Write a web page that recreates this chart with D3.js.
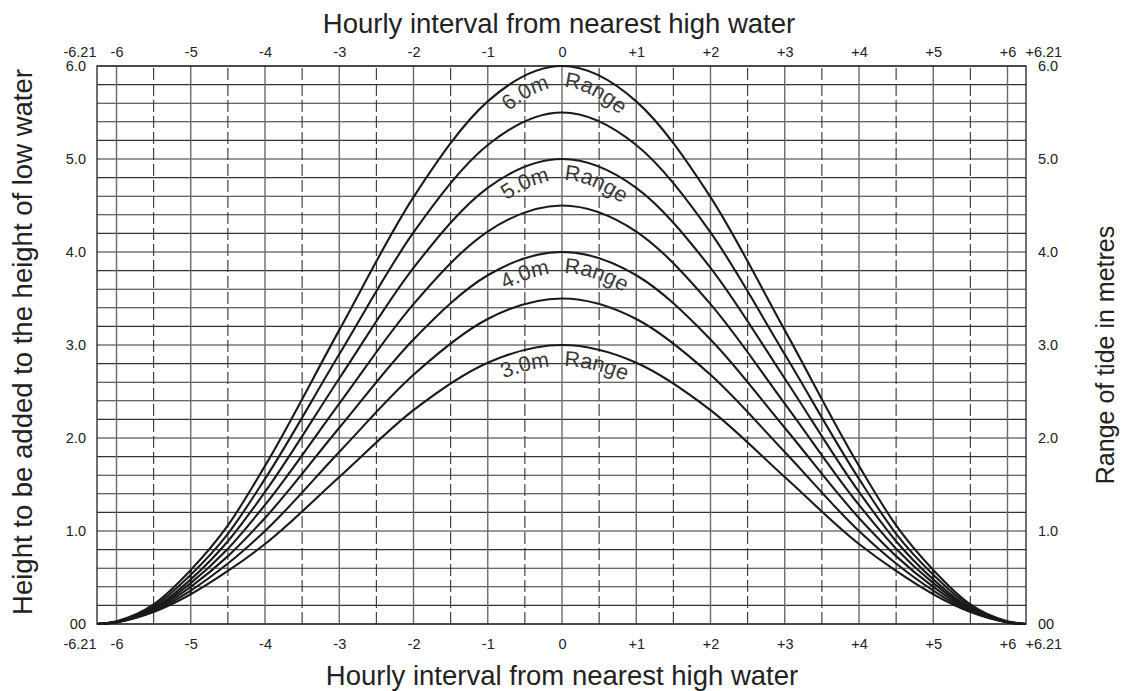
<!DOCTYPE html>
<html>
<head>
<meta charset="utf-8">
<script src="https://cdn.jsdelivr.net/npm/d3@7"></script>
<style>
  body { margin: 0; background: #fff; }
  svg { display: block; font-family: "Liberation Sans", Arial, sans-serif; }
  .tick text { font-size: 14.5px; fill: #222; }
</style>
</head>
<body>
<div id="chart"></div>
<script>
// hours relative to high water
const hours = [-6.21, -6, -5.5, -5, -4.5, -4, -3, -2, -1, 0, 1, 2, 3, 4, 4.5, 5, 5.5, 6, 6.21];

// height above low water for each tidal range (m)
const range60 = [0, 0.03, 0.21, 0.58, 1.06, 1.70, 3.16, 4.59, 5.62, 6.00, 5.62, 4.59, 3.16, 1.70, 1.06, 0.58, 0.21, 0.03, 0];
const range55 = [0, 0.02, 0.19, 0.53, 0.97, 1.56, 2.90, 4.21, 5.15, 5.50, 5.15, 4.21, 2.90, 1.56, 0.97, 0.53, 0.19, 0.02, 0];
const range50 = [0, 0.02, 0.17, 0.48, 0.89, 1.42, 2.64, 3.83, 4.69, 5.00, 4.69, 3.83, 2.64, 1.42, 0.89, 0.48, 0.17, 0.02, 0];
const range45 = [0, 0.02, 0.16, 0.44, 0.81, 1.28, 2.37, 3.44, 4.22, 4.50, 4.22, 3.44, 2.37, 1.28, 0.81, 0.44, 0.16, 0.02, 0];
const range40 = [0, 0.02, 0.15, 0.40, 0.73, 1.14, 2.11, 3.06, 3.75, 4.00, 3.75, 3.06, 2.11, 1.14, 0.73, 0.40, 0.15, 0.02, 0];
const range35 = [0, 0.02, 0.14, 0.36, 0.65, 1.00, 1.85, 2.68, 3.28, 3.50, 3.28, 2.68, 1.85, 1.00, 0.65, 0.36, 0.14, 0.02, 0];
const range30 = [0, 0.02, 0.13, 0.32, 0.57, 0.86, 1.58, 2.30, 2.81, 3.00, 2.81, 2.30, 1.58, 0.86, 0.57, 0.32, 0.13, 0.02, 0];

const curves = [
  {range: 6.0, values: range60, label: "6.0m"},
  {range: 5.5, values: range55, label: null},
  {range: 5.0, values: range50, label: "5.0m"},
  {range: 4.5, values: range45, label: null},
  {range: 4.0, values: range40, label: "4.0m"},
  {range: 3.5, values: range35, label: null},
  {range: 3.0, values: range30, label: "3.0m"}
];

const xTicks = [-6.21, -6, -5, -4, -3, -2, -1, 0, 1, 2, 3, 4, 5, 6, 6.21];
const yTicks = [0, 1, 2, 3, 4, 5, 6];
const xTitle = "Hourly interval from nearest high water";
const yTitleLeft = "Height to be added to the height of low water";
const yTitleRight = "Range of tide in metres";

const width = 1124, height = 691;

const svg = d3.select("#chart").append("svg")
  .attr("width", width)
  .attr("height", height);

const x = d3.scaleLinear()
  .domain([-6.21, -6, 6, 6.21])
  .range([97, 116.5, 1007.5, 1026]);

const y = d3.scaleLinear()
  .domain([0, 6])
  .range([624, 66]);

// grid
const grid = svg.append("g");

grid.selectAll(".hline")
  .data(d3.range(0, 31).map(i => i * 0.2))
  .enter().append("line")
  .attr("x1", x(-6.21)).attr("x2", x(6.21))
  .attr("y1", d => y(d)).attr("y2", d => y(d))
  .attr("stroke", "#333").attr("stroke-width", 1.1);

grid.selectAll(".vsolid")
  .data(d3.range(-6, 7))
  .enter().append("line")
  .attr("x1", d => x(d)).attr("x2", d => x(d))
  .attr("y1", y(0)).attr("y2", y(6))
  .attr("stroke", "#6a6a6a").attr("stroke-width", 1.4);

grid.selectAll(".vdash")
  .data(d3.range(-5.5, 6, 1))
  .enter().append("line")
  .attr("x1", d => x(d)).attr("x2", d => x(d))
  .attr("y1", y(0)).attr("y2", y(6))
  .attr("stroke", "#333").attr("stroke-width", 1.1)
  .attr("stroke-dasharray", "12,4");

grid.append("rect")
  .attr("x", x(-6.21)).attr("y", y(6))
  .attr("width", x(6.21) - x(-6.21)).attr("height", y(0) - y(6))
  .attr("fill", "none").attr("stroke", "#222").attr("stroke-width", 1.3);

// curves
const line = d3.line()
  .x((d, i) => x(hours[i]))
  .y(d => y(d))
  .curve(d3.curveMonotoneX);

const curveG = svg.append("g");
const curvePaths = curveG.selectAll("path")
  .data(curves)
  .enter().append("path")
  .attr("d", d => line(d.values))
  .attr("fill", "none")
  .attr("stroke", "#1a1a1a")
  .attr("stroke-width", 2.1);

// the curves meet the +/-5 h lines in a short dark joint
[5, -5].forEach(h => {
  const i = hours.indexOf(h);
  const ext = d3.extent(curves, c => c.values[i]);
  curveG.append("line")
    .attr("x1", x(h)).attr("x2", x(h))
    .attr("y1", y(ext[0])).attr("y2", y(ext[1]))
    .attr("stroke", "#1a1a1a").attr("stroke-width", 2);
});

// range labels following the curve just below it (normal offset)
const defs = svg.append("defs");
const labels = svg.append("g")
  .attr("font-size", 21.5)
  .attr("fill", "#3a3a3a");
const offset = 21;

curvePaths.filter(d => d.label).each(function(c, k) {
  const node = this;
  const total = node.getTotalLength();
  const pts = [];
  const step = 1;
  for (let s = step; s < total - step; s += step) {
    const p = node.getPointAtLength(s);
    if (p.x < x(-2.6) || p.x > x(2.6)) continue;
    const a = node.getPointAtLength(s - step), b = node.getPointAtLength(s + step);
    const tx = b.x - a.x, ty = b.y - a.y, len = Math.hypot(tx, ty);
    pts.push([p.x - ty / len * offset, p.y + tx / len * offset]);
  }
  const id = "lp" + k;
  const lp = defs.append("path").attr("id", id).attr("d", d3.line()(pts)).node();
  let lo = 0, hi = lp.getTotalLength();
  for (let n = 0; n < 40; n++) {
    const mid = (lo + hi) / 2;
    if (lp.getPointAtLength(mid).x < x(0)) lo = mid; else hi = mid;
  }
  labels.append("text")
    .attr("text-anchor", "end")
    .append("textPath")
    .attr("href", "#" + id)
    .attr("startOffset", lo - 12)
    .text(c.label);
  labels.append("text")
    .attr("text-anchor", "start")
    .append("textPath")
    .attr("href", "#" + id)
    .attr("startOffset", lo + 2)
    .text("Range");
});

// axes
const fmtX = d => d === 0 ? "0" : (d > 0 ? "+" + d : String(d));
const fmtY = d => d === 0 ? "00" : d3.format(".1f")(d);

const styleEnds = g => {
  g.select(".domain").remove();
  g.selectAll(".tick line").remove();
  g.selectAll(".tick text")
    .filter(d => d === -6.21).attr("text-anchor", "end").attr("dx", -1);
  g.selectAll(".tick text")
    .filter(d => d === 6.21).attr("text-anchor", "start").attr("dx", -1);
};

svg.append("g")
  .attr("transform", `translate(0,${y(6)})`)
  .call(d3.axisTop(x).tickValues(xTicks).tickFormat(fmtX).tickSize(0).tickPadding(9))
  .call(styleEnds);

svg.append("g")
  .attr("transform", `translate(0,${y(0)})`)
  .call(d3.axisBottom(x).tickValues(xTicks).tickFormat(fmtX).tickSize(0).tickPadding(15))
  .call(styleEnds);

svg.append("g")
  .attr("transform", `translate(${x(-6.21)},0)`)
  .call(d3.axisLeft(y).tickValues(yTicks).tickFormat(fmtY).tickSize(0).tickPadding(11))
  .call(g => g.select(".domain").remove());

svg.append("g")
  .attr("transform", `translate(${x(6.21)},0)`)
  .call(d3.axisRight(y).tickValues(yTicks).tickFormat(fmtY).tickSize(0).tickPadding(12))
  .call(g => g.select(".domain").remove());

// titles
svg.append("text")
  .attr("x", 559).attr("y", 33)
  .attr("text-anchor", "middle")
  .attr("font-size", 27.5).attr("fill", "#222")
  .text(xTitle);

svg.append("text")
  .attr("x", 562).attr("y", 685)
  .attr("text-anchor", "middle")
  .attr("font-size", 27.5).attr("fill", "#222")
  .text(xTitle);

svg.append("text")
  .attr("transform", "translate(32,342) rotate(-90)")
  .attr("text-anchor", "middle")
  .attr("font-size", 27.5).attr("fill", "#222")
  .text(yTitleLeft);

svg.append("text")
  .attr("transform", "translate(1114,355) rotate(-90)")
  .attr("text-anchor", "middle")
  .attr("font-size", 25).attr("fill", "#222")
  .text(yTitleRight);
</script>
</body>
</html>
